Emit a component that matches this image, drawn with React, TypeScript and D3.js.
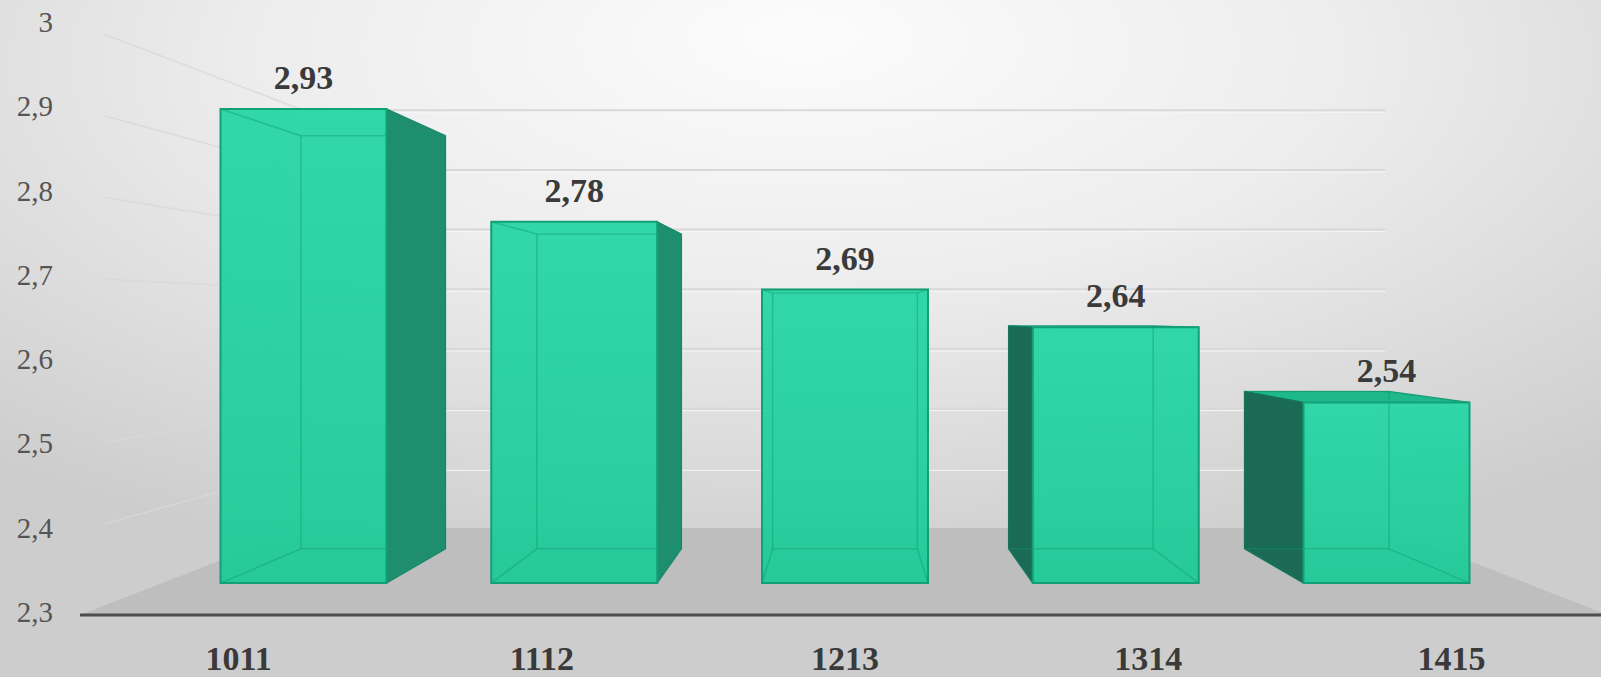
import React from "react";
import * as d3 from "d3";

const categories = ["1011", "1112", "1213", "1314", "1415"];
const values = [2.93, 2.78, 2.69, 2.64, 2.54];
const yTicks = [2.3, 2.4, 2.5, 2.6, 2.7, 2.8, 2.9, 3.0];

const W = 1601;
const H = 677;
// perspective vanishing point and depth scale factors
const VX = 845;
const VY = 317;
const K_BAR_FRONT = 0.893;
const K_BAR_BACK = 0.778;
const K_WALL = 0.708;
const FLOOR_X0 = 80;
const FLOOR_X1 = 1608;

type Pt = [number, number];
const poly = (pts: Pt[]) => pts.map((p) => p.join(",")).join(" ");

export default function App() {
  const x = d3
    .scaleBand<string>()
    .domain(categories)
    .range([87, 1603])
    .paddingInner(0.387)
    .paddingOuter(0.1935);
  const y = d3.scaleLinear().domain([2.3, 3.0]).range([615, 25]);
  const base = y.domain()[0];
  const P = (wx: number, v: number, k: number): Pt => [
    VX + (wx - VX) * k,
    VY + (y(v) - VY) * k,
  ];
  const fmt = (v: number) => d3.format("~g")(v).replace(".", ",");
  const fontSerif = "'Liberation Serif', 'Times New Roman', serif";

  const floor: Pt[] = [
    P(FLOOR_X0, base, 1),
    P(FLOOR_X1, base, 1),
    P(FLOOR_X1, base, K_WALL),
    P(FLOOR_X0, base, K_WALL),
  ];

  return (
    <svg
      width={W}
      height={H}
      style={{ position: "absolute", left: 0, top: 0 }}
      xmlns="http://www.w3.org/2000/svg"
    >
      <defs>
        <radialGradient id="bg" cx="0.5" cy="0.12" r="0.75" fx="0.5" fy="0.05">
          <stop offset="0" stopColor="#fcfcfc" />
          <stop offset="0.45" stopColor="#ededed" />
          <stop offset="1" stopColor="#cdcdcd" />
        </radialGradient>
        <linearGradient id="front" x1="0" y1="0" x2="0" y2="1">
          <stop offset="0" stopColor="#25d6a5" />
          <stop offset="1" stopColor="#1dca98" />
        </linearGradient>
      </defs>
      <rect x={0} y={0} width={W} height={H} fill="url(#bg)" />

      {/* left wall gridlines */}
      {yTicks.slice(1).map((v) => {
        const a = P(FLOOR_X0, v, 1);
        const b = P(FLOOR_X0, v, K_WALL);
        return (
          <line
            key={"lw" + v}
            x1={a[0] + 25}
            y1={a[1] + (b[1] - a[1]) * (25 / (b[0] - a[0]))}
            x2={b[0]}
            y2={b[1]}
            stroke="#d9d9d9"
            strokeWidth={1.5}
            opacity={0.8}
          />
        );
      })}

      {/* back wall gridlines */}
      {yTicks.slice(1).map((v) => {
        const a = P(FLOOR_X0, v, K_WALL);
        const b = P(FLOOR_X1, v, K_WALL);
        return (
          <g key={"bw" + v}>
            <line x1={a[0]} y1={a[1]} x2={b[0]} y2={b[1]} stroke="#d8d8d8" strokeWidth={2} />
            <line x1={a[0]} y1={a[1] + 2} x2={b[0]} y2={b[1] + 2} stroke="#f6f6f6" strokeWidth={1} />
          </g>
        );
      })}

      {/* floor */}
      <polygon points={poly(floor)} fill="#bebebe" />

      {/* bars */}
      {categories.map((c, i) => {
        const v = values[i];
        const x0 = x(c)!;
        const x1 = x0 + x.bandwidth();
        const FTL = P(x0, v, K_BAR_FRONT);
        const FTR = P(x1, v, K_BAR_FRONT);
        const FBR = P(x1, base, K_BAR_FRONT);
        const FBL = P(x0, base, K_BAR_FRONT);
        const BTL = P(x0, v, K_BAR_BACK);
        const BTR = P(x1, v, K_BAR_BACK);
        const BBR = P(x1, base, K_BAR_BACK);
        const BBL = P(x0, base, K_BAR_BACK);
        const showRight = BTR[0] > FTR[0] + 1;
        const showLeft = BTL[0] < FTL[0] - 1;
        const showTop = BTL[1] < FTL[1];
        const hidden = "rgba(16,150,110,0.4)";
        return (
          <g key={c}>
            {showTop && (
              <polygon points={poly([FTL, FTR, BTR, BTL])} fill="#1db88b" stroke="#15a078" strokeWidth={1} />
            )}
            {showRight && (
              <polygon points={poly([FTR, BTR, BBR, FBR])} fill="#1f8e6f" stroke="#177a5e" strokeWidth={1} />
            )}
            {showLeft && (
              <polygon points={poly([FTL, BTL, BBL, FBL])} fill="#1b6a55" stroke="#165846" strokeWidth={1} />
            )}
            <polygon points={poly([FTL, FTR, FBR, FBL])} fill="url(#front)" opacity={0.94} />
            {/* hidden edges seen through the translucent box */}
            <polygon points={poly([BTL, BTR, BBR, BBL])} fill="none" stroke={hidden} strokeWidth={1.5} />
            <line x1={FTL[0]} y1={FTL[1]} x2={BTL[0]} y2={BTL[1]} stroke={hidden} strokeWidth={1.5} />
            <line x1={FTR[0]} y1={FTR[1]} x2={BTR[0]} y2={BTR[1]} stroke={hidden} strokeWidth={1.5} />
            <line x1={FBL[0]} y1={FBL[1]} x2={BBL[0]} y2={BBL[1]} stroke={hidden} strokeWidth={1.5} />
            <line x1={FBR[0]} y1={FBR[1]} x2={BBR[0]} y2={BBR[1]} stroke={hidden} strokeWidth={1.5} />
            <polygon points={poly([FTL, FTR, FBR, FBL])} fill="none" stroke="#12a077" strokeWidth={2} />
            <text
              x={(FTL[0] + FTR[0]) / 2}
              y={FTL[1] - 20}
              textAnchor="middle"
              fontFamily={fontSerif}
              fontWeight="bold"
              fontSize={34}
              fill="#3a3a3a"
            >
              {fmt(v)}
            </text>
          </g>
        );
      })}

      {/* category axis line */}
      <line x1={FLOOR_X0} y1={y(base)} x2={W} y2={y(base)} stroke="#4d4d4d" strokeWidth={3} />

      {/* category labels */}
      {categories.map((c) => (
        <text
          key={"cl" + c}
          x={x(c)! + x.bandwidth() / 2}
          y={670}
          textAnchor="middle"
          fontFamily={fontSerif}
          fontWeight="bold"
          fontSize={34}
          fill="#3a3a3a"
        >
          {c}
        </text>
      ))}

      {/* value axis labels */}
      {yTicks.map((v) => (
        <text
          key={"yl" + v}
          x={53}
          y={y(v) - 3}
          textAnchor="end"
          dominantBaseline="central"
          fontFamily={fontSerif}
          fontSize={29}
          fill="#555555"
        >
          {fmt(v)}
        </text>
      ))}
    </svg>
  );
}
